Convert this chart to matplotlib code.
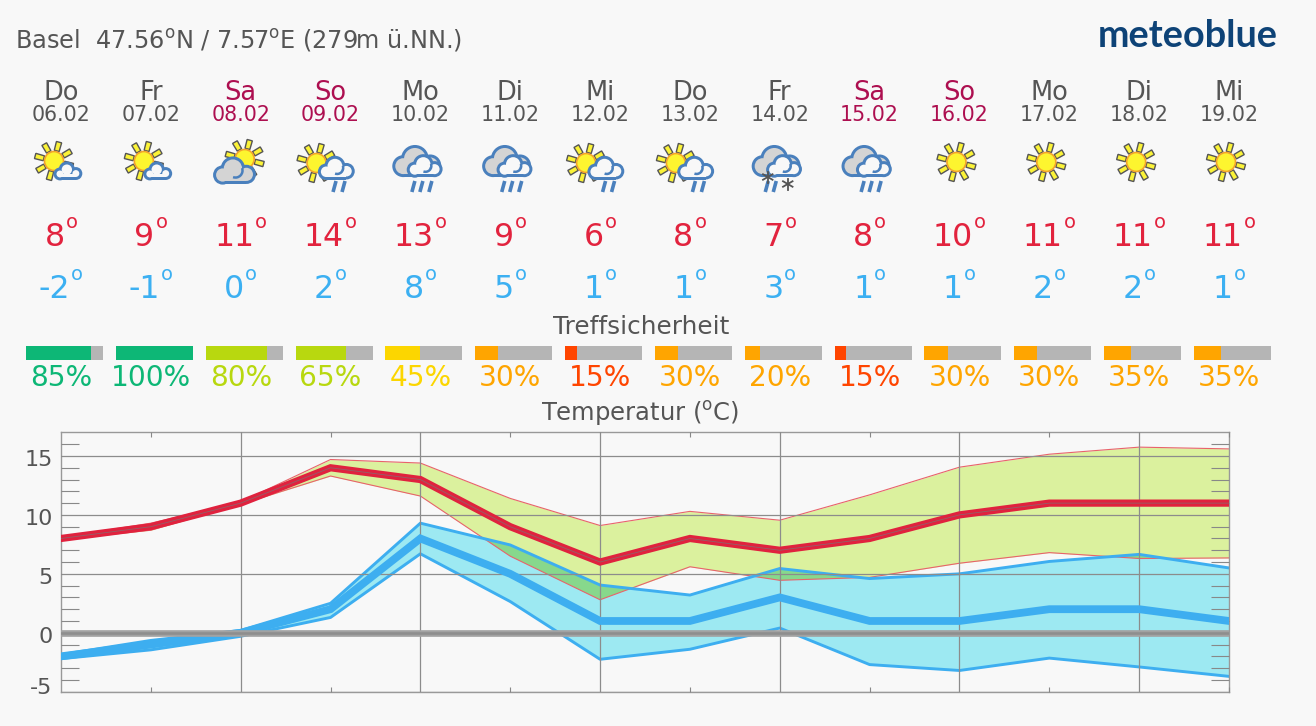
import numpy as np
import matplotlib
matplotlib.use("Agg")
import matplotlib.pyplot as plt
from matplotlib.patches import Circle, Polygon, Rectangle, Arc
from matplotlib.transforms import ScaledTranslation

plt.rcParams['font.family'] = ['DejaVu Sans']
plt.rcParams['mathtext.fontset'] = 'dejavusans'

W, H = 1316, 726
BG = '#f8f8f8'
TXT = '#555555'
WEEKEND = '#ad0f50'
TMAX_C = '#e0223e'
TMIN_C = '#3daef0'

days = ['Do', 'Fr', 'Sa', 'So', 'Mo', 'Di', 'Mi', 'Do', 'Fr', 'Sa', 'So', 'Mo', 'Di', 'Mi']
dates = ['06.02', '07.02', '08.02', '09.02', '10.02', '11.02', '12.02', '13.02', '14.02',
         '15.02', '16.02', '17.02', '18.02', '19.02']
icons = ['sun_cloud', 'sun_cloud', 'sun_gray', 'sun_rain', 'clouds_rain', 'clouds_rain', 'sun_rain',
         'sun_rain', 'clouds_snow', 'clouds_rain', 'sun', 'sun', 'sun', 'sun']
tmax = [8, 9, 11, 14, 13, 9, 6, 8, 7, 8, 10, 11, 11, 11]
tmin = [-2, -1, 0, 2, 8, 5, 1, 1, 3, 1, 1, 2, 2, 1]
confidence = [85, 100, 80, 65, 45, 30, 15, 30, 20, 15, 30, 30, 35, 35]
tmax_upper = [8.1, 9.3, 11.1, 14.7, 14.4, 11.4, 9.1, 10.3, 9.55, 11.7, 14.05, 15.15, 15.75, 15.6]
tmax_lower = [7.9, 8.7, 10.9, 13.3, 11.6, 6.5, 2.8, 5.6, 4.45, 4.7, 5.9, 6.8, 6.3, 6.35]
tmin_upper = [-1.85, -0.65, 0.2, 2.5, 9.3, 7.45, 4.05, 3.2, 5.45, 4.6, 5.0, 6.05, 6.65, 5.5]
tmin_lower = [-2.2, -1.45, -0.3, 1.3, 6.7, 2.65, -2.25, -1.4, 0.4, -2.7, -3.2, -2.15, -2.9, -3.7]
ytick_values = [-5, 0, 5, 10, 15]
ytick_labels = ['-5', '0', '5', '10', '15']


def conf_color(v):
    if v >= 85:
        return '#0db776'
    if v >= 65:
        return '#b8d80f'
    if v >= 45:
        return '#fcd600'
    if v >= 20:
        return '#ffa500'
    return '#ff4500'


fig = plt.figure(figsize=(W / 100, H / 100), dpi=100, facecolor=BG)

# ---------- temperature chart ----------
ax = fig.add_axes([61 / W, (H - 691.7) / H, 1168 / W, 259.3 / H], facecolor=BG)
x = np.arange(len(days))
up, lo = np.array(tmax_upper), np.array(tmax_lower)
mup, mlo = np.array(tmin_upper), np.array(tmin_lower)
ax.fill_between(x, lo, up, color='#dbf19e', lw=0, zorder=1)
ax.fill_between(x, mlo, mup, color='#9de9f2', lw=0, zorder=1.2)
ax.fill_between(x, lo, mup, where=mup > lo, interpolate=True, color='#87d88c', lw=0, zorder=1.4)
ax.plot(x, up, color='#e8636b', lw=0.8, zorder=2)
ax.plot(x, lo, color='#e8636b', lw=0.8, zorder=2)
ax.plot(x, mup, color=TMIN_C, lw=2.1, zorder=2.2)
ax.plot(x, mlo, color=TMIN_C, lw=2.1, zorder=2.2)
ax.plot(x, tmin, color=TMIN_C, lw=5.6, zorder=3, solid_joinstyle='miter')
ax.plot(x, tmax, color=TMAX_C, lw=5.2, zorder=3, solid_joinstyle='miter')
ax.plot(x, tmax, color='#777777', lw=0.6, zorder=3.1, alpha=0.75)

ax.set_xlim(0, 13)
ax.set_ylim(-5, 17)
ax.set_xticks(x[2::2])
ax.set_xticks(x[1::2], minor=True)
ax.set_yticks(ytick_values)
ax.set_yticklabels(ytick_labels)
ax.set_yticks([v for v in range(-5, 17) if v % 5 != 0], minor=True)
ax.set_xticklabels([])
ax.tick_params(axis='x', which='major', length=0)
ax.tick_params(axis='x', which='minor', length=3.5, width=0.8, color='#888888', direction='in',
               top=True, bottom=True)
ax.tick_params(axis='y', which='major', length=0, pad=6, labelsize=16, labelcolor=TXT)
ax.tick_params(axis='y', which='minor', length=13, width=0.8, color='#888888', direction='in',
               left=True, right=True)
ax.grid(True, which='major', color='#8c8c8c', lw=0.9, zorder=4)
ax.set_axisbelow(False)
ax.axhline(0, color='#a2a2a2', lw=4.8, zorder=4.1)
ax.axhline(0, color='#8e8e8e', lw=1.8, zorder=4.2)
for s in ax.spines.values():
    s.set_color('#999999')
    s.set_linewidth(1.0)
for lab, v in zip(ax.get_yticklabels(), ytick_values):
    dy = 5.5 if v == -5 else -2
    lab.set_transform(lab.get_transform() + ScaledTranslation(0, dy / 100, fig.dpi_scale_trans))

# ---------- overlay in pixel space ----------
ov = fig.add_axes([0, 0, 1, 1], zorder=5)
ov.set_xlim(0, W)
ov.set_ylim(H, 0)
ov.axis('off')
ov.patch.set_alpha(0)

STEP = 1168 / 13
cols = 61 + STEP * np.arange(14)
DEG = r'$^{\mathrm{o}}$'

ov.text(15, 48, f'Basel  47.56{DEG}N / 7.57{DEG}E (279m ü.NN.)', fontsize=17.3, color=TXT, ha='left', va='baseline')
ov.text(1098, 47, 'meteoblue', family='Lato', fontweight='bold', fontsize=27.3, color='#0e4377', ha='left', va='baseline')
ov.text(641, 334, 'Treffsicherheit', fontsize=17.8, color=TXT, ha='center', va='baseline')
ov.text(640, 421, f'Temperatur ({DEG}C)', fontsize=17.5, color=TXT, ha='center', va='baseline')

BLUE = '#4a80bd'
GRAYC = '#d4d4d4'
DARK = '#555555'


def sun(cx, cy, r=9.5):
    for k in range(8):
        a = np.deg2rad(30 + 45 * k)
        u = np.array([np.cos(a), -np.sin(a)])
        n = np.array([-u[1], u[0]])
        c = np.array([cx, cy])
        p = [c + u * (r + 1) + n * 2.5, c + u * (r + 10) + n * 2.7, c + u * (r + 10) - n * 2.7, c + u * (r + 1) - n * 2.5]
        ov.add_patch(Polygon(p, closed=True, fc='#fbf337', ec=DARK, lw=1.0))
    ov.add_patch(Circle((cx, cy), r, fc='#fdf52f', ec='#f3a42a', lw=1.2))


def cloud(cx, cy, s, fill, hook=True):
    lobes = [(-9.0, 2.5, 7.5), (-1.0, -2.5, 9.5), (9.5, 2.0, 7.5)]
    t = 3.0
    for dx, dy, r in lobes:
        ov.add_patch(Circle((cx + dx * s, cy + dy * s), r * s, fc=BLUE, ec='none'))
    ov.add_patch(Rectangle((cx - 9 * s, cy + 2 * s), 18.5 * s, 7.7 * s, fc=BLUE, ec='none'))
    for dx, dy, r in lobes:
        ov.add_patch(Circle((cx + dx * s, cy + dy * s), r * s - t, fc=fill, ec='none'))
    ov.add_patch(Rectangle((cx - 9 * s, cy + 2 * s), 18.5 * s, 7.7 * s - t, fc=fill, ec='none'))
    if hook:
        ov.add_patch(Arc((cx + 1 * s, cy - 1 * s), 11 * s, 11 * s, angle=0, theta1=-20, theta2=110,
                         ec=BLUE, lw=1.8))


def rain(xs, y0=181, y1=192):
    for xr in xs:
        ov.plot([xr + 1.5, xr - 1.5], [y0, y1], color=BLUE, lw=2.6, solid_capstyle='butt')


def snow(cx, cy, r=5.5):
    for a in (90, 30, 150):
        t = np.deg2rad(a)
        ov.plot([cx - r * np.cos(t), cx + r * np.cos(t)], [cy - r * np.sin(t), cy + r * np.sin(t)],
                color=DARK, lw=1.3)


def back_clouds(cx):
    cloud(cx - 4, 162.5, 1.46, GRAYC, hook=False)


def degree_label(cx, base, value, color):
    digits = ov.text(0, base, str(value), fontsize=22.8, color=color, ha='left', va='baseline')
    w = digits.get_window_extent(fig.canvas.get_renderer()).width
    sup = ov.text(0, base - 18, 'o', fontsize=14, color=color, ha='left', va='baseline')
    ws = sup.get_window_extent(fig.canvas.get_renderer()).width
    left = cx - (w + ws + 1) / 2
    digits.set_x(left)
    sup.set_x(left + w + 1)


for cx, kind in zip(cols, icons):
    if kind == 'sun_cloud':
        sun(cx - 7, 161)
        cloud(cx + 6.7, 171.8, 0.86, BG, hook=False)
    elif kind == 'sun_gray':
        sun(cx + 4, 159)
        cloud(cx - 6.5, 171.8, 1.28, GRAYC)
    elif kind == 'sun_rain':
        sun(cx - 14, 163)
        cloud(cx + 5.5, 169, 1.1, BG)
        rain([cx + 4, cx + 13])
    elif kind == 'clouds_rain':
        back_clouds(cx)
        cloud(cx + 4, 167, 1.07, BG)
        rain([cx - 7, cx + 1, cx + 10])
    elif kind == 'clouds_snow':
        back_clouds(cx)
        cloud(cx + 4, 167, 1.07, BG)
        rain([cx - 13, cx - 5])
        snow(cx - 12, 177)
        snow(cx + 8, 184)
    else:
        sun(cx - 3, 162)

for cx, d, dt, hi, low, c in zip(cols, days, dates, tmax, tmin, confidence):
    col = WEEKEND if d in ('Sa', 'So') else TXT
    ov.text(cx, 100.5, d, fontsize=18.5, color=col, ha='center', va='baseline')
    ov.text(cx, 121, dt, fontsize=14.8, color=col, ha='center', va='baseline')
    degree_label(cx, 246, hi, '#e2233e')
    degree_label(cx, 297.5, low, '#3cb0f2')
    bc = conf_color(c)
    ov.add_patch(Rectangle((cx - 35, 346), 77, 14, fc='#b5b5b5', ec='none'))
    ov.add_patch(Rectangle((cx - 35, 346), 77 * c / 100, 14, fc=bc, ec='none'))
    ov.text(cx, 386, f'{c}%', fontsize=20.2, color=bc, ha='center', va='baseline')

fig.savefig('out.png', dpi=100, facecolor=BG)
